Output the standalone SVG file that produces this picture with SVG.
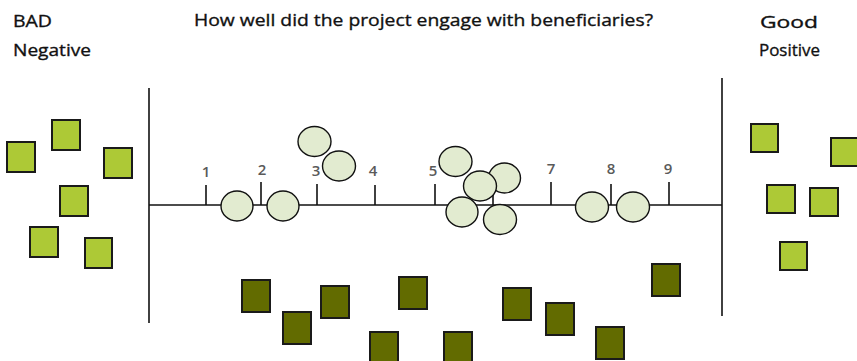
<svg xmlns="http://www.w3.org/2000/svg" width="857" height="361" viewBox="0 0 857 361">
<style>
.t{font-family:"Open Sans","Liberation Sans",sans-serif;font-size:17px;font-weight:500;fill:#111;stroke:#111;stroke-width:0.35}
.n{font-family:"Open Sans","Liberation Sans",sans-serif;font-size:15px;font-weight:600;fill:#5a5a5a;text-anchor:middle}
.ln{stroke:#111;stroke-width:1.6;fill:none}
.lt{fill:#adc936;stroke:#1a1a1a;stroke-width:2}
.dk{fill:#626b00;stroke:#1a1a1a;stroke-width:2}
.el{fill:#e2ebd0;stroke:#111;stroke-width:1.4}
</style>
<rect width="857" height="361" fill="#fff"/>
<g id="labels">
<text class="t" x="13" y="27" textLength="39" lengthAdjust="spacingAndGlyphs">BAD</text>
<text class="t" x="13" y="56" textLength="78" lengthAdjust="spacingAndGlyphs">Negative</text>
<text class="t" x="194" y="26" textLength="459" lengthAdjust="spacingAndGlyphs">How well did the project engage with beneficiaries?</text>
<text class="t" x="760" y="28" textLength="58" lengthAdjust="spacingAndGlyphs">Good</text>
<text class="t" x="759" y="56" textLength="61" lengthAdjust="spacingAndGlyphs">Positive</text>
</g>
<g id="axis">
<line class="ln" x1="149" y1="88" x2="149" y2="323"/>
<line class="ln" x1="722" y1="78" x2="722" y2="316"/>
<line class="ln" x1="149" y1="205" x2="722" y2="205"/>
<line class="ln" x1="206" y1="185" x2="206" y2="205"/>
<line class="ln" x1="261" y1="182" x2="261" y2="205"/>
<line class="ln" x1="317" y1="184" x2="317" y2="205"/>
<line class="ln" x1="375" y1="185" x2="375" y2="205"/>
<line class="ln" x1="435" y1="184" x2="435" y2="205"/>
<line class="ln" x1="493" y1="190" x2="493" y2="205"/>
<line class="ln" x1="551" y1="182" x2="551" y2="205"/>
<line class="ln" x1="611" y1="184" x2="611" y2="205"/>
<line class="ln" x1="669" y1="182" x2="669" y2="205"/>
<text class="n" x="206" y="177">1</text>
<text class="n" x="262" y="175">2</text>
<text class="n" x="316" y="176">3</text>
<text class="n" x="373" y="176">4</text>
<text class="n" x="433" y="176">5</text>
<text class="n" x="551" y="174">7</text>
<text class="n" x="611" y="174">8</text>
<text class="n" x="668" y="174">9</text>
</g>
<g id="left-squares">
<rect class="lt" x="7" y="142" width="28" height="30"/>
<rect class="lt" x="52" y="120" width="28" height="30"/>
<rect class="lt" x="104" y="148" width="28" height="30"/>
<rect class="lt" x="60" y="186" width="28" height="30"/>
<rect class="lt" x="30" y="227" width="28" height="30"/>
<rect class="lt" x="85" y="238" width="27" height="30"/>
</g>
<g id="right-squares">
<rect class="lt" x="751" y="124" width="27" height="28"/>
<rect class="lt" x="831" y="138" width="28" height="28"/>
<rect class="lt" x="767" y="185" width="28" height="28"/>
<rect class="lt" x="810" y="188" width="28" height="28"/>
<rect class="lt" x="780" y="242" width="27" height="28"/>
</g>
<g id="bottom-squares">
<rect class="dk" x="242" y="280" width="28" height="32"/>
<rect class="dk" x="283" y="312" width="28" height="32"/>
<rect class="dk" x="321" y="286" width="28" height="32"/>
<rect class="dk" x="370" y="332" width="28" height="32"/>
<rect class="dk" x="399" y="277" width="28" height="32"/>
<rect class="dk" x="444" y="332" width="28" height="32"/>
<rect class="dk" x="503" y="288" width="28" height="32"/>
<rect class="dk" x="546" y="303" width="28" height="32"/>
<rect class="dk" x="596" y="327" width="28" height="32"/>
<rect class="dk" x="652" y="264" width="28" height="32"/>
</g>
<g id="ellipses">
<ellipse class="el" cx="237" cy="206" rx="16" ry="15"/>
<ellipse class="el" cx="283" cy="206" rx="16" ry="15"/>
<ellipse class="el" cx="314.5" cy="141.5" rx="16.5" ry="15"/>
<ellipse class="el" cx="339" cy="166" rx="16.5" ry="15"/>
<ellipse class="el" cx="455.5" cy="161.5" rx="16.5" ry="15"/>
<ellipse class="el" cx="504.5" cy="178" rx="16" ry="15"/>
<ellipse class="el" cx="462" cy="212" rx="16" ry="15"/>
<ellipse class="el" cx="480" cy="186" rx="16.5" ry="15"/>
<ellipse class="el" cx="500" cy="219.5" rx="16.5" ry="15"/>
<ellipse class="el" cx="592" cy="207" rx="16.5" ry="15"/>
<ellipse class="el" cx="633" cy="207" rx="16.5" ry="15"/>
</g>
</svg>
